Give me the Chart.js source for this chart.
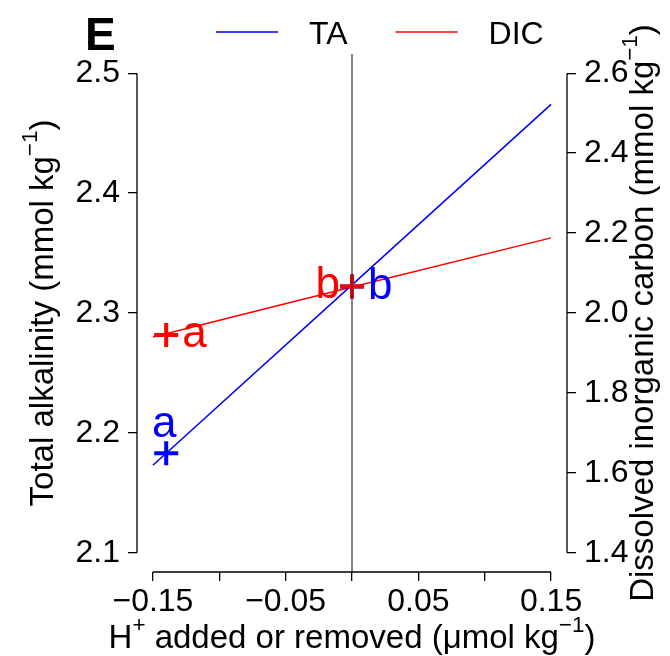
<!DOCTYPE html>
<html>
<head>
<meta charset="utf-8">
<script src="https://cdn.jsdelivr.net/npm/chart.js@4.4.1/dist/chart.umd.min.js"></script>
<style>
  html, body { margin: 0; padding: 0; background: #fff; }
  canvas { display: block; }
</style>
</head>
<body>
<canvas id="chart" width="670" height="656"></canvas>
<script>
// Panel E: alkalinity and DIC response to H+ added or removed

// Data -----------------------------------------------------------------------
const xLine = [-0.15, 0, 0.15];
const taLine = [2.173, 2.3235, 2.474];
const dicLine = [1.940, 2.065, 2.188];

const markerX = [-0.14, 0];
const taMarkers = [2.183, 2.322];
const dicMarkers = [1.945, 2.066];
const markerLabels = ['a', 'b'];

const seriesNames = ['TA', 'DIC'];
const refLineX = 0;

// tick definitions: [first, last, step]
const xTickDef = [-0.15, 0.15, 0.05];
const yLeftTickDef = [2.1, 2.5, 0.1];
const yRightTickDef = [1.4, 2.6, 0.2];
const xTickLabels = ['\u22120.15', '', '\u22120.05', '', '0.05', '', '0.15'];

// Text -----------------------------------------------------------------------
const panelLetter = 'E';
const xTitle = [{ t: 'H' }, { t: '+', sup: true }, { t: ' added or removed (\u03bcmol kg' }, { t: '\u22121', sup: true }, { t: ')' }];
const yLeftTitle = [{ t: 'Total alkalinity (mmol kg' }, { t: '\u22121', sup: true }, { t: ')' }];
const yRightTitle = [{ t: 'Dissolved inorganic carbon (mmol kg' }, { t: '\u22121', sup: true }, { t: ')' }];

// Style ----------------------------------------------------------------------
const FONT = "'Liberation Sans', Arial, Helvetica, sans-serif";
const COLORS = { ta: '#0000ff', dic: '#ff0000', axis: '#000', ref: '#333' };
const TICK_SIZE = 32;
const TITLE_SIZE = 33;
const TICK_LEN = 9;

// R-style axis range: data ticks plus 4% on each side
function rRange(def) {
	const d = (def[1] - def[0]) * 0.04;
	return [def[0] - d, def[1] + d];
}

const xLim = rRange(xTickDef);
const yLim = rRange(yLeftTickDef);
const y2Lim = rRange(yRightTickDef);

function toPoints(xs, ys) {
	return xs.map((x, i) => ({ x, y: ys[i] }));
}

// draw text made of normal and superscript parts
function drawRich(ctx, parts, x, y, size) {
	const supSize = size * 0.68;
	const widths = parts.map(p => {
		ctx.font = `${p.sup ? supSize : size}px ${FONT}`;
		return ctx.measureText(p.t).width;
	});
	const total = widths.reduce((a, b) => a + b, 0);
	let cx = x - total / 2;
	ctx.textAlign = 'left';
	ctx.textBaseline = 'alphabetic';
	parts.forEach((p, i) => {
		ctx.font = `${p.sup ? supSize : size}px ${FONT}`;
		ctx.fillText(p.t, cx, p.sup ? y - size * 0.5 : y);
		cx += widths[i];
	});
}

// Plugins --------------------------------------------------------------------
const refLinePlugin = {
	id: 'refLine',
	afterDatasetsDraw(chart) {
		const { ctx, chartArea, scales } = chart;
		const px = scales.x.getPixelForValue(refLineX);
		ctx.save();
		ctx.strokeStyle = COLORS.ref;
		ctx.lineWidth = 1.2;
		ctx.beginPath();
		ctx.moveTo(px, chartArea.top);
		ctx.lineTo(px, chartArea.bottom);
		ctx.stroke();
		ctx.restore();
	}
};

// axis lines only between first and last tick, like R
const rAxesPlugin = {
	id: 'rAxes',
	afterDraw(chart) {
		const { ctx, scales } = chart;
		ctx.save();
		ctx.strokeStyle = COLORS.axis;
		ctx.lineWidth = 1.3;
		ctx.beginPath();
		const sx = scales.x;
		const xt = sx.ticks;
		ctx.moveTo(sx.getPixelForValue(xt[0].value), sx.top);
		ctx.lineTo(sx.getPixelForValue(xt[xt.length - 1].value), sx.top);
		[scales.y, scales.y2].forEach(s => {
			const edge = s.position === 'left' ? s.right : s.left;
			ctx.moveTo(edge, s.getPixelForValue(s.ticks[0].value));
			ctx.lineTo(edge, s.getPixelForValue(s.ticks[s.ticks.length - 1].value));
		});
		ctx.stroke();
		ctx.restore();
	}
};

const markerLabelPlugin = {
	id: 'markerLabels',
	afterDatasetsDraw(chart, args, opts) {
		const { ctx } = chart;
		ctx.save();
		ctx.font = `${opts.size}px ${FONT}`;
		ctx.textBaseline = 'alphabetic';
		chart.data.datasets.forEach((ds, di) => {
			if (!ds.placement) return;
			const meta = chart.getDatasetMeta(di);
			meta.data.forEach((pt, i) => {
				const where = ds.placement[i];
				ctx.fillStyle = ds.borderColor;
				let x = pt.x, y = pt.y;
				if (where === 'above') { ctx.textAlign = 'center'; x -= 2; y -= 16; }
				if (where === 'right') { ctx.textAlign = 'left'; x += 16; y += 12; }
				if (where === 'left') { ctx.textAlign = 'right'; x -= 12; y += 11; }
				ctx.fillText(markerLabels[i], x, y);
			});
		});
		ctx.restore();
	}
};

const annotationsPlugin = {
	id: 'rText',
	afterDraw(chart) {
		const { ctx, chartArea } = chart;
		const midX = (chartArea.left + chartArea.right) / 2;
		const midY = (chartArea.top + chartArea.bottom) / 2;
		ctx.save();
		ctx.fillStyle = '#000';

		// panel letter
		ctx.font = `bold 46px ${FONT}`;
		ctx.textAlign = 'left';
		ctx.textBaseline = 'alphabetic';
		ctx.fillText(panelLetter, 85, 50);

		// legend
		let lx = 216;
		chart.data.datasets.filter(d => d.inLegend).forEach(ds => {
			ctx.strokeStyle = ds.borderColor;
			ctx.lineWidth = 1.5;
			ctx.beginPath();
			ctx.moveTo(lx, 32);
			ctx.lineTo(lx + 62, 32);
			ctx.stroke();
			ctx.font = `${TICK_SIZE}px ${FONT}`;
			ctx.fillStyle = '#000';
			ctx.textAlign = 'left';
			ctx.fillText(ds.label, lx + 93, 44);
			lx += 93 + ctx.measureText(ds.label).width + 48;
		});

		// axis titles
		drawRich(ctx, xTitle, midX, 648, TITLE_SIZE);
		ctx.save();
		ctx.translate(53, midY);
		ctx.rotate(-Math.PI / 2);
		drawRich(ctx, yLeftTitle, 0, 0, TITLE_SIZE);
		ctx.restore();
		ctx.save();
		ctx.translate(653, midY);
		ctx.rotate(-Math.PI / 2);
		drawRich(ctx, yRightTitle, 0, 0, TITLE_SIZE);
		ctx.restore();

		ctx.restore();
	}
};

// Chart ----------------------------------------------------------------------
function tickScale(position, lim, def, fit, extra) {
	return Object.assign({
		type: 'linear',
		position,
		min: lim[0],
		max: lim[1],
		afterFit: fit,
		border: { display: false },
		grid: {
			display: true,
			drawOnChartArea: false,
			drawTicks: true,
			tickLength: TICK_LEN,
			color: COLORS.axis,
			lineWidth: 1.3
		},
		ticks: {
			stepSize: def[2],
			includeBounds: false,
			autoSkip: false,
			maxRotation: 0,
			minRotation: 0,
			color: '#000',
			padding: 8,
			font: { size: TICK_SIZE, family: FONT },
			callback: (v) => v.toFixed(1)
		}
	}, extra || {});
}

const xScale = tickScale('bottom', xLim, xTickDef, (s) => { s.height = 84; });
xScale.ticks.padding = 2;
xScale.ticks.callback = (v, i) => xTickLabels[i];

const yScale = tickScale('left', yLim, yLeftTickDef, (s) => { s.width = 137; });
const y2Scale = tickScale('right', y2Lim, yRightTickDef, (s) => { s.width = 103; });

new Chart(document.getElementById('chart'), {
	data: {
		datasets: [
			{
				type: 'scatter',
				label: 'DIC points',
				data: toPoints(markerX, dicMarkers),
				yAxisID: 'y2',
				borderColor: COLORS.dic,
				backgroundColor: COLORS.dic,
				pointStyle: 'cross',
				pointRadius: 12,
				borderWidth: 4,
				placement: ['right', 'left'],
				order: 0
			},
			{
				type: 'scatter',
				label: 'TA points',
				data: toPoints(markerX, taMarkers),
				yAxisID: 'y',
				borderColor: COLORS.ta,
				backgroundColor: COLORS.ta,
				pointStyle: 'cross',
				pointRadius: 12,
				borderWidth: 4,
				placement: ['above', 'right'],
				order: 1
			},
			{
				type: 'line',
				label: seriesNames[0],
				data: toPoints(xLine, taLine),
				yAxisID: 'y',
				borderColor: COLORS.ta,
				borderWidth: 1.5,
				pointRadius: 0,
				tension: 0,
				inLegend: true,
				order: 2
			},
			{
				type: 'line',
				label: seriesNames[1],
				data: toPoints(xLine, dicLine),
				yAxisID: 'y2',
				borderColor: COLORS.dic,
				borderWidth: 1.5,
				pointRadius: 0,
				tension: 0,
				inLegend: true,
				order: 3
			}
		]
	},
	options: {
		responsive: false,
		animation: false,
		layout: { padding: { top: 54, left: 0, right: 0, bottom: 0 }, autoPadding: false },
		scales: { x: xScale, y: yScale, y2: y2Scale },
		plugins: {
			legend: { display: false },
			tooltip: { enabled: false },
			markerLabels: { size: 44 }
		}
	},
	plugins: [refLinePlugin, rAxesPlugin, markerLabelPlugin, annotationsPlugin]
});
</script>
</body>
</html>
